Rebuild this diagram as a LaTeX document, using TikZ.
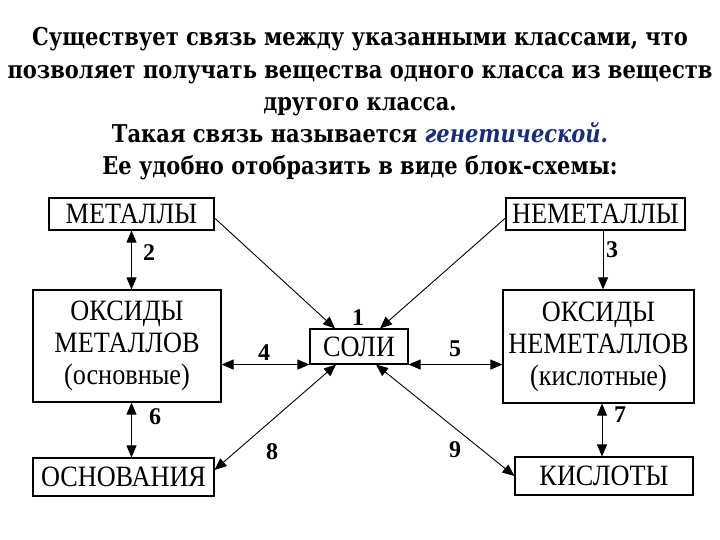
\documentclass[tikz,border=0pt]{standalone}
\usepackage{fontspec}
\setmainfont{Liberation Serif}
\newfontfamily\titlefont[FakeStretch=0.858]{DejaVu Serif}
\newfontfamily\boxfont[FakeStretch=0.89]{Liberation Serif}
\usetikzlibrary{arrows.meta}
\definecolor{genblue}{RGB}{25,45,125}
\tikzset{
  x=1pt, y=-1pt,
  title/.style={anchor=base, inner sep=0pt, font=\titlefont\bfseries\fontsize{24.5}{27}\selectfont},
  block/.style={draw, line width=1.1pt, inner sep=0pt, align=center,
    font=\boxfont\fontsize{29.5}{32}\selectfont},
  num/.style={inner sep=0pt, font=\bfseries\fontsize{24}{26}\selectfont},
  tip/.style={line width=0.9pt, -{Triangle[length=12pt,width=10pt]}},
  dtip/.style={line width=0.9pt, {Triangle[length=12pt,width=10pt]}-{Triangle[length=12pt,width=10pt]}},
}
\begin{document}
\begin{tikzpicture}
\useasboundingbox (0,0) rectangle (720,540);
% title
\node[title] (t1) at (360,46) {Существует связь между указанными классами, что};
\node[title] (t2) at (360,79) {позволяет получать вещества одного класса из веществ};
\node[title] (t3) at (360,111) {другого класса.};
\node[title] (t4) at (360,143) {Такая связь называется {\itshape\color{genblue}генетической.}};
\node[title] (t5) at (360,175) {Ее удобно отобразить в виде блок-схемы:};
% blocks
\node[block, minimum width=165pt, minimum height=32pt] (met) at (131.5,214) {МЕТАЛЛЫ};
\node[block, minimum width=179pt, minimum height=32pt] (nemet) at (595.5,214) {НЕМЕТАЛЛЫ};
\node[block, minimum width=188pt, minimum height=112pt] (oxm) at (127,346) {ОКСИДЫ\\МЕТАЛЛОВ\\(основные)};
\node[block, minimum width=191pt, minimum height=113pt] (oxn) at (598.5,346.5) {ОКСИДЫ\\НЕМЕТАЛЛОВ\\(кислотные)};
\node[block, minimum width=98pt, minimum height=35pt] (soli) at (359,346.5) {СОЛИ};
\node[block, minimum width=181pt, minimum height=38pt] (osn) at (123.5,477) {ОСНОВАНИЯ};
\node[block, minimum width=178pt, minimum height=38pt] (kisl) at (604,476) {КИСЛОТЫ};
% connectors
\draw[tip] ([yshift=-4pt]met.east) -- (soli.north -| 335,0);
\draw[tip] ([yshift=-4pt]nemet.west) -- (soli.north -| 380,0);
\draw[dtip] (met.south) -- (oxm.north -| met.south);
\draw[tip] (nemet.south -| 603,0) -- (oxn.north -| 603,0);
\draw[dtip] (oxm.east |- soli.south) -- (soli.south west);
\draw[dtip] (soli.south east) -- (oxn.west |- soli.south);
\draw[dtip] (oxm.south -| met.south) -- (osn.north -| met.south);
\draw[dtip] (oxn.south -| 602,0) -- (kisl.north -| 602,0);
\draw[dtip] (soli.south -| 336,0) -- (osn.east |- 0,470);
\draw[dtip] (soli.south -| 376,0) -- (kisl.west);
% numbers
\node[num] (n1) at (358,318) {1};
\node[num] (n2) at (149,253) {2};
\node[num] (n3) at (612,250) {3};
\node[num] (n4) at (264,353) {4};
\node[num] (n5) at (455,349) {5};
\node[num] (n6) at (155,417) {6};
\node[num] (n7) at (620,415) {7};
\node[num] (n8) at (272,452) {8};
\node[num] (n9) at (455,450) {9};
\end{tikzpicture}
\end{document}
